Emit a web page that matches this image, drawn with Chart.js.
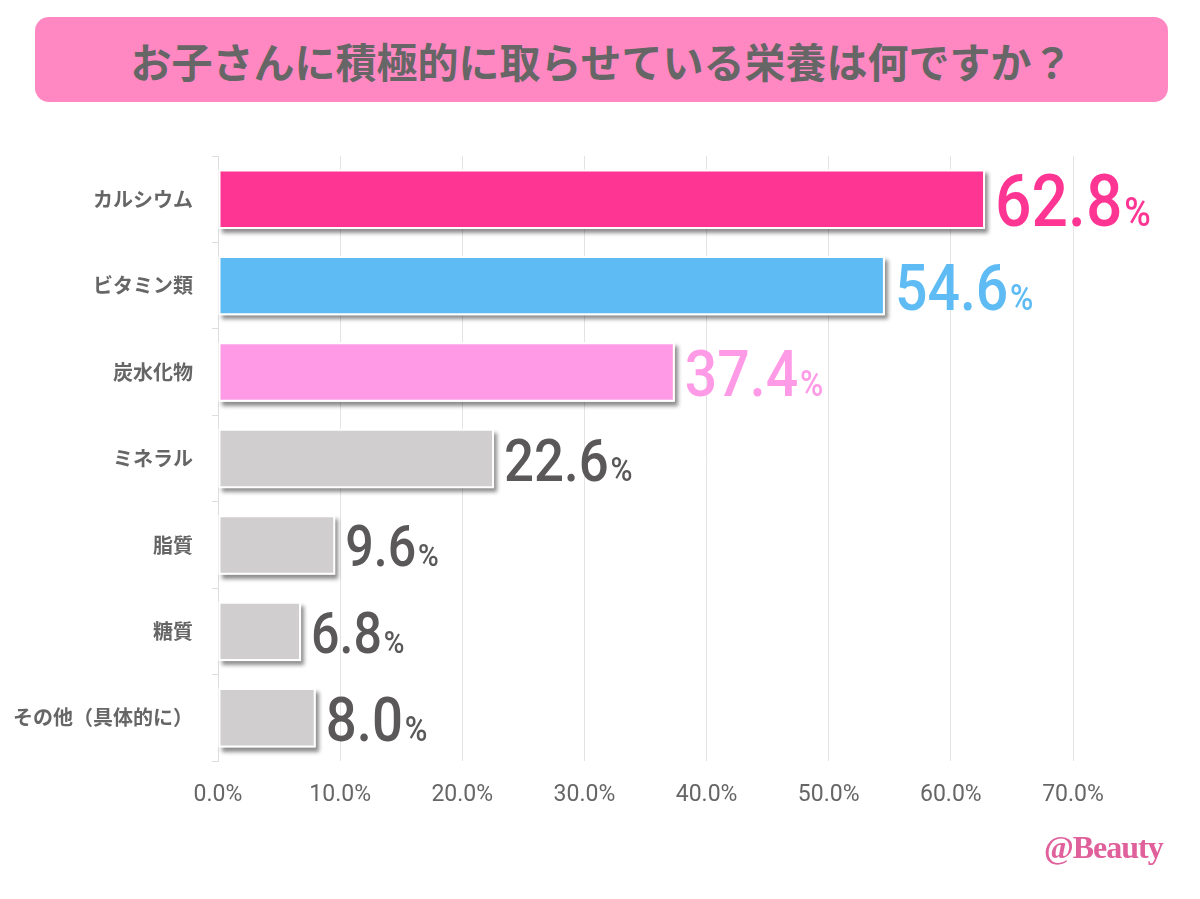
<!DOCTYPE html>
<html lang="ja">
<head>
<meta charset="utf-8">
<script src="https://cdn.jsdelivr.net/npm/chart.js@4.4.1/dist/chart.umd.min.js"></script>
<style>
    html, body { margin: 0; padding: 0; background: #fff; }
    #wrap { position: relative; width: 1200px; height: 899px; overflow: hidden; }
    #chart { position: absolute; left: 0; top: 0; }
    #title {
        position: absolute; left: 35px; top: 17px; width: 1133px; height: 85px;
        background: #FF88C2; border-radius: 14px;
        display: flex; align-items: center; justify-content: center;
        font-family: "Noto Sans CJK JP", sans-serif; font-weight: 700; font-size: 41px;
        color: #666;
    }
    #credit {
        position: absolute; left: 1044px; top: 829px;
        font-family: "Liberation Serif", "DejaVu Serif", serif; font-weight: 700; font-size: 32px;
        color: #E0609B; letter-spacing: -1px;
    }
</style>
</head>
<body>
<div id="wrap">
    <canvas id="chart" width="1200" height="899"></canvas>
    <div id="title">お子さんに積極的に取らせている栄養は何ですか？</div>
    <div id="credit">@Beauty</div>
</div>
<script>
// Data
const categories = ['カルシウム', 'ビタミン類', '炭水化物', 'ミネラル', '脂質', '糖質', 'その他（具体的に）'];
const values = [62.8, 54.6, 37.4, 22.6, 9.6, 6.8, 8.0];
const barColors = ['#FF3594', '#5EBBF4', '#FF9BE6', '#D0CECF', '#D0CECF', '#D0CECF', '#D0CECF'];
const labelColors = ['#FF3594', '#5EBBF4', '#FF9BE6', '#5A5858', '#5A5858', '#5A5858', '#5A5858'];
const xMax = 70;
const xStep = 10;

// label font sizes (px) for the big value numbers, top to bottom
const labelSizes = [73, 65, 65, 60, 57, 57, 62];

// ── drop shadow behind each bar ──
const barShadow = {
    id: 'barShadow',
    beforeDatasetsDraw(chart) {
        const ctx = chart.ctx;
        const meta = chart.getDatasetMeta(0);
        ctx.save();
        ctx.shadowColor = 'rgba(0,0,0,0.45)';
        ctx.shadowBlur = 4;
        ctx.shadowOffsetX = 3;
        ctx.shadowOffsetY = 4;
        ctx.fillStyle = '#fff';
        meta.data.forEach(bar => {
            const h = bar.height;
            ctx.fillRect(bar.base, bar.y - h / 2, bar.x - bar.base, h);
        });
        ctx.restore();
    }
};

// ── big value labels next to the bars ──
const valueLabels = {
    id: 'valueLabels',
    afterDatasetsDraw(chart) {
        const ctx = chart.ctx;
        const meta = chart.getDatasetMeta(0);
        const sx = 0.88;
        meta.data.forEach((bar, i) => {
            const num = values[i].toFixed(1);
            const size = labelSizes[i];
            const cap = size * 0.711;
            ctx.save();
            ctx.fillStyle = labelColors[i];
            ctx.textBaseline = 'alphabetic';
            ctx.textAlign = 'left';
            ctx.translate(bar.x + 10, bar.y + cap / 2 + 1);
            ctx.scale(sx, 1);
            ctx.font = `500 ${size}px Roboto, sans-serif`;
            ctx.fillText(num, 0, 0);
            const w = ctx.measureText(num).width;
            ctx.font = `500 ${Math.round(size * 0.56)}px Roboto, sans-serif`;
            ctx.fillText('%', w + 2, 0);
            ctx.restore();
        });
    }
};

new Chart(document.getElementById('chart'), {
    type: 'bar',
    data: {
        labels: categories,
        datasets: [{
            data: values,
            backgroundColor: barColors,
            borderColor: '#fff',
            borderWidth: 2,
            borderSkipped: false,
            categoryPercentage: 0.86,
            barPercentage: 0.8
        }]
    },
    options: {
        indexAxis: 'y',
        responsive: false,
        animation: false,
        devicePixelRatio: 1,
        layout: { padding: { top: 156, right: 127, left: 0, bottom: 0 } },
        plugins: {
            legend: { display: false },
            tooltip: { enabled: false }
        },
        scales: {
            x: {
                min: 0,
                max: xMax,
                ticks: {
                    stepSize: xStep,
                    color: '#666',
                    padding: 20,
                    font: { family: 'Roboto', size: 23 },
                    callback: v => v.toFixed(1) + '%'
                },
                grid: { color: '#E3E3E3', drawTicks: false },
                border: { display: false },
                afterFit: s => { s.height = 138; }
            },
            y: {
                ticks: {
                    color: '#666',
                    padding: 19,
                    font: { family: '"Noto Sans CJK JP"', size: 20, weight: 'bold' }
                },
                grid: { drawOnChartArea: false, offset: true, tickLength: 6, color: '#DDDDDD' },
                border: { display: true, color: '#DDDDDD' },
                afterFit: s => { s.width = 218; }
            }
        }
    },
    plugins: [barShadow, valueLabels]
});
</script>
</body>
</html>
